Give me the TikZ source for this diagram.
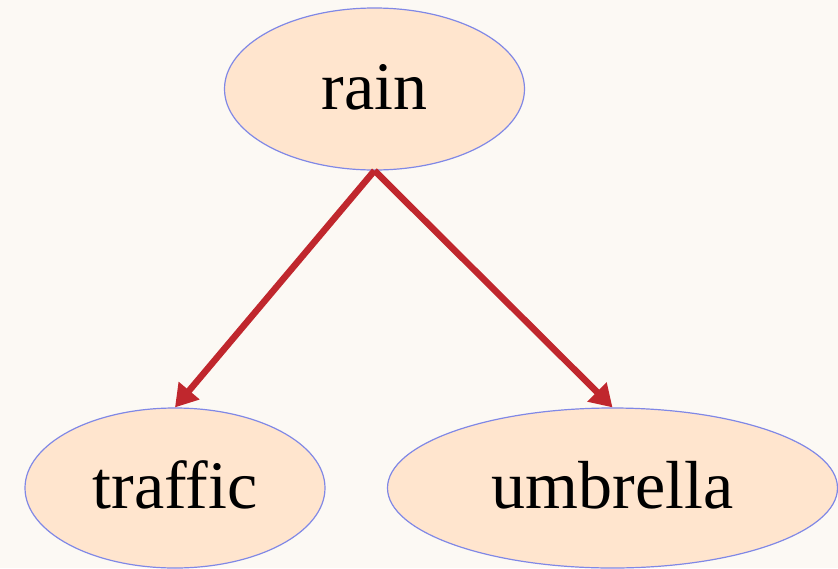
\documentclass[tikz,border=0pt]{standalone}
\usepackage{fontspec}
\setmainfont{Liberation Serif}
\usetikzlibrary{shapes.geometric,arrows.meta}
\definecolor{bgcol}{HTML}{FCF9F4}
\definecolor{nodefill}{HTML}{FFE5CE}
\definecolor{nodeline}{HTML}{8088E6}
\definecolor{edgecol}{HTML}{C0272D}
\begin{document}
\begin{tikzpicture}[x=1pt,y=-1pt,
  varnode/.style={ellipse, draw=nodeline, line width=1.2pt, fill=nodefill,
    inner sep=0pt, text height=40pt, text depth=0pt,
    font=\fontsize{68}{80}\selectfont},
  edge/.style={draw=edgecol, line width=6.5pt,
    -{Triangle[length=22pt,width=26pt]}}]
  \fill[bgcol] (0,0) rectangle (838,568);
  \useasboundingbox (0,0) rectangle (838,568);
  \node[varnode, minimum width=300pt, minimum height=162pt] (rain) at (374.5,89) {rain};
  \node[varnode, minimum width=300pt, minimum height=160pt] (traffic) at (175,488) {traffic};
  \node[varnode, minimum width=450pt, minimum height=160pt] (umbrella) at (612.5,488) {umbrella};
  \draw[edge] (rain.south) -- (traffic.north);
  \draw[edge] (rain.south) -- (umbrella.north);
\end{tikzpicture}
\end{document}
